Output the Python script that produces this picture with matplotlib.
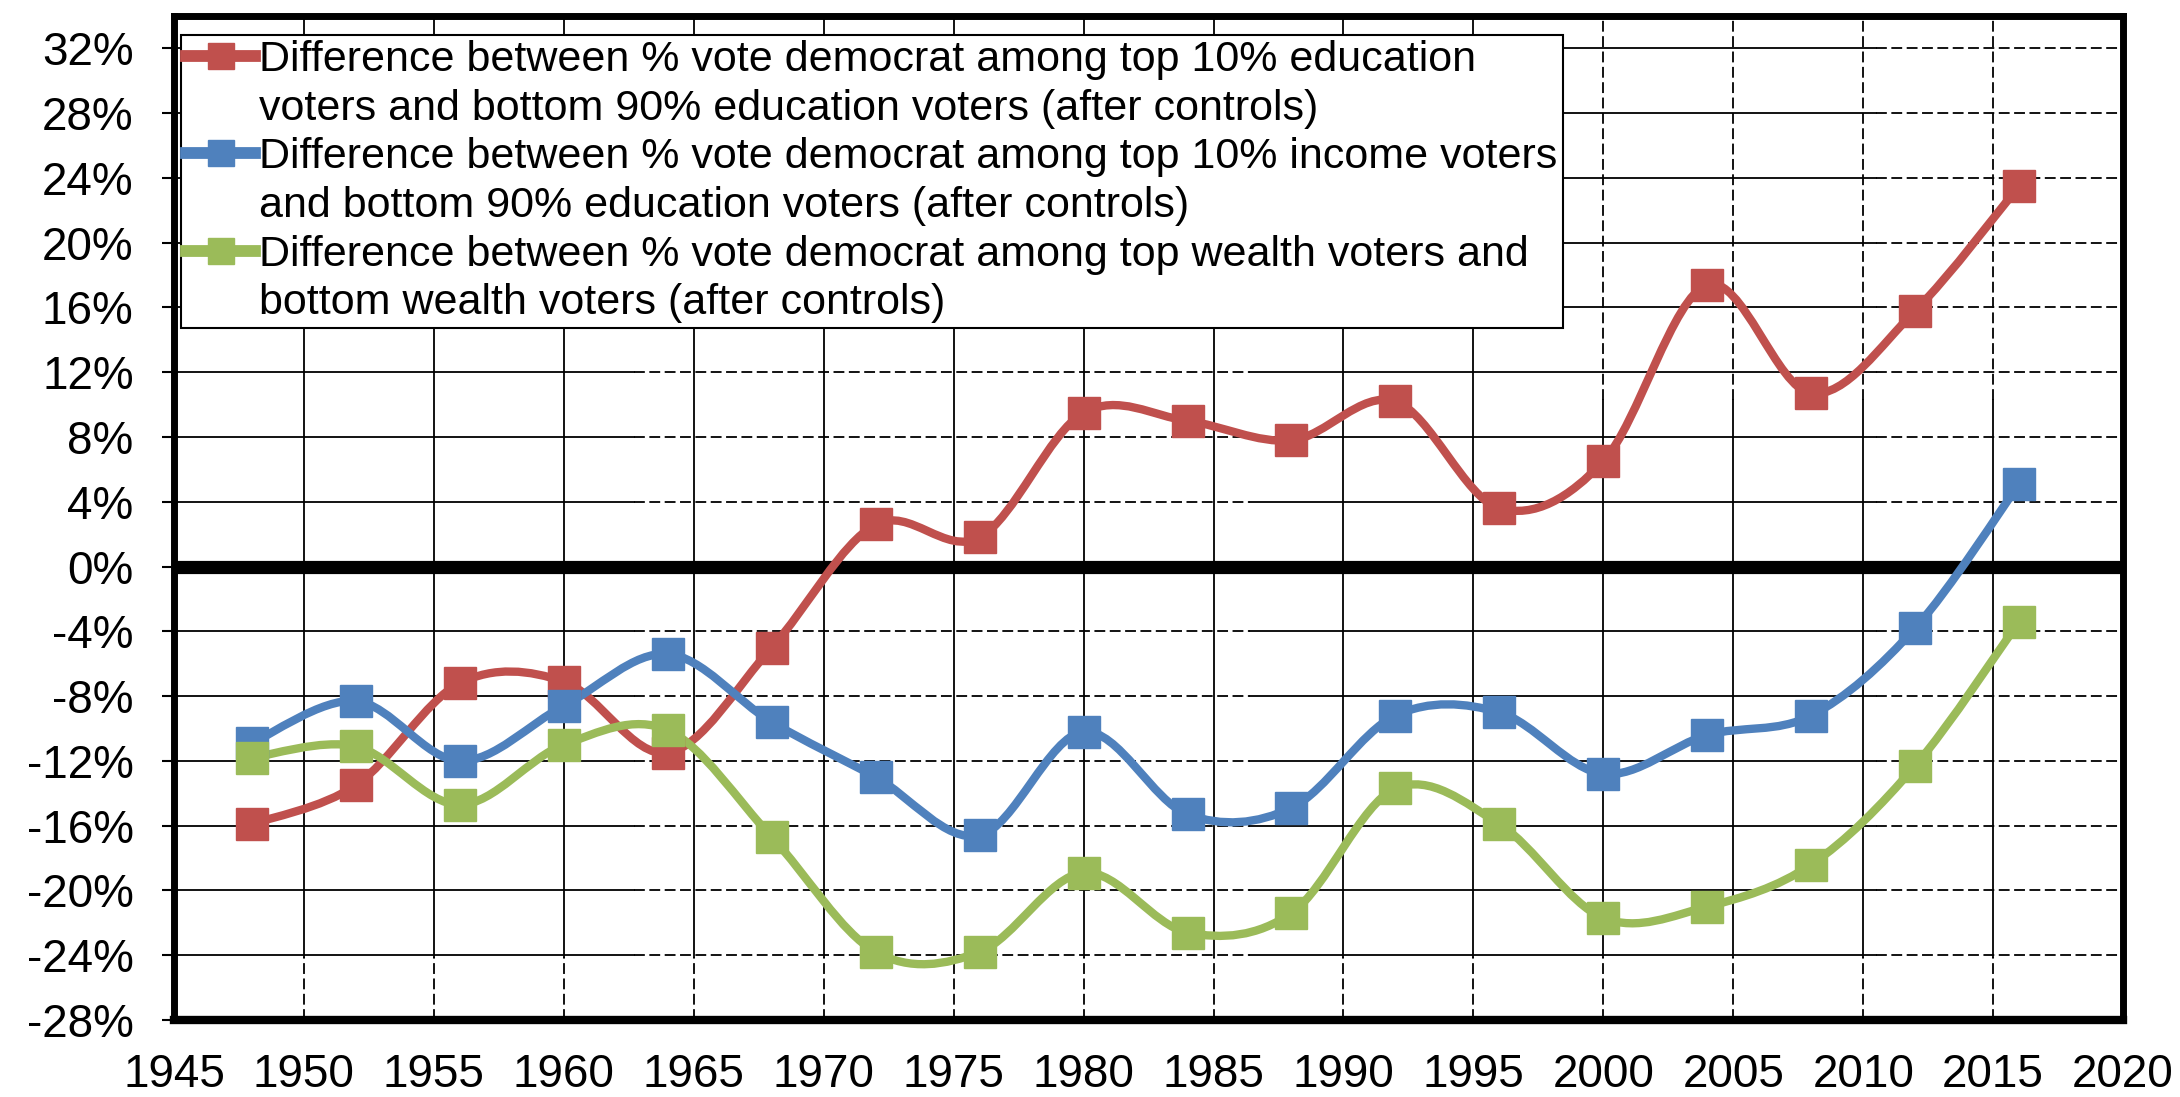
import numpy as np
import matplotlib.pyplot as plt
from matplotlib.path import Path
from matplotlib.patches import PathPatch
from matplotlib.lines import Line2D

plt.rcParams['font.family'] = ['Liberation Sans', 'DejaVu Sans']

# election years and the three gaps (percentage points)
years = [1948, 1952, 1956, 1960, 1964, 1968, 1972, 1976, 1980,
         1984, 1988, 1992, 1996, 2000, 2004, 2008, 2012, 2016]
education = [-15.9, -13.5, -7.2, -7.1, -11.5, -5.0, 2.6, 1.8, 9.5,
             9.0, 7.8, 10.2, 3.6, 6.5, 17.4, 10.7, 15.8, 23.5]
income = [-10.9, -8.3, -12.0, -8.6, -5.4, -9.6, -13.0, -16.6, -10.2,
          -15.3, -14.9, -9.2, -9.0, -12.8, -10.4, -9.2, -3.8, 5.1]
wealth = [-11.8, -11.1, -14.7, -11.0, -10.1, -16.7, -23.8, -23.8, -18.9,
          -22.6, -21.4, -13.7, -15.9, -21.7, -21.0, -18.4, -12.3, -3.4]

labels = [
    ['Difference between % vote democrat among top 10% education',
     'voters and bottom 90% education voters (after controls)'],
    ['Difference between % vote democrat among top 10% income voters',
     'and bottom 90% education voters (after controls)'],
    ['Difference between % vote democrat among top wealth voters and',
     'bottom wealth voters (after controls)'],
]
colors = ['#C0504D', '#4F81BD', '#9BBB59']

x_ticks = list(range(1945, 2021, 5))
y_ticks = list(range(-28, 33, 4))


def smooth_path(x, y):
    # excel style smoothed line: bezier with catmull-rom control points
    x = np.asarray(x, float)
    y = np.asarray(y, float)
    n = len(x)
    verts = [(x[0], y[0])]
    codes = [Path.MOVETO]
    for i in range(n - 1):
        i0 = max(i - 1, 0)
        i3 = min(i + 2, n - 1)
        c1 = (x[i] + (x[i + 1] - x[i0]) / 6, y[i] + (y[i + 1] - y[i0]) / 6)
        c2 = (x[i + 1] - (x[i3] - x[i]) / 6, y[i + 1] - (y[i3] - y[i]) / 6)
        verts += [c1, c2, (x[i + 1], y[i + 1])]
        codes += [Path.CURVE4] * 3
    return Path(verts, codes)


fig = plt.figure(figsize=(21.8, 10.97), dpi=100)
ax = fig.add_axes([0.0798, 0.0702, 0.8941, 0.9152])
ax.set_xlim(1945, 2020)
ax.set_ylim(-28, 34)

# grid, drawn by hand (solid and dashed pieces like the original)
dash = (0, (6, 2.5))
for v in y_ticks:
    if v in (0, -28):
        continue
    for a, b, ls in [(1945, 1962.7, '-'), (1962.7, 1986.4, dash),
                     (1986.4, 2010.5, '-'), (2010.5, 2020, dash)]:
        ax.plot([a, b], [v, v], color='black', lw=1.3, ls=ls, zorder=1)
for t in x_ticks[1:-1]:
    ax.plot([t, t], [-28, -24.1], color='black', lw=1.3, ls=dash, zorder=1)
    if t >= 2000:
        ax.plot([t, t], [-24.1, 10.3], color='black', lw=1.3, zorder=1)
        ax.plot([t, t], [10.3, 34], color='black', lw=1.3, ls=dash, zorder=1)
    else:
        ax.plot([t, t], [-24.1, 34], color='black', lw=1.3, zorder=1)

ax.axhline(0, color='black', lw=9.5, zorder=2)

for series, c in zip([education, income, wealth], colors):
    ax.add_patch(PathPatch(smooth_path(years, series), facecolor='none',
                           edgecolor=c, lw=6, capstyle='round', zorder=3))
    ax.plot(years, series, ls='none', marker='s', ms=23, color=c, zorder=4)

handles = []
leg_labels = []
for lab, c in zip(labels, colors):
    handles.append(Line2D([], [], color=c, lw=8.5, marker='s', ms=19))
    handles.append(Line2D([], [], color='none'))
    leg_labels += lab
leg = ax.legend(handles, leg_labels, loc='upper left',
                bbox_to_anchor=(0.0036, 0.981), fontsize=31,
                frameon=True, fancybox=False, edgecolor='black',
                framealpha=1, borderpad=0.12, labelspacing=0.2,
                handlelength=1.6, handletextpad=0.1, borderaxespad=0)
leg.get_frame().set_linewidth(1.5)
leg.set_zorder(10)

ax.set_xticks(x_ticks)
ax.set_yticks(y_ticks)
ax.set_yticklabels([f'{v}%' for v in y_ticks])
ax.tick_params(axis='x', length=0, pad=24, labelsize=33)
ax.tick_params(axis='y', length=9, width=1.5, pad=20, labelsize=33,
               direction='out')
for side in ['left', 'right', 'top', 'bottom']:
    ax.spines[side].set_linewidth(5)
    ax.spines[side].set_zorder(5)
ax.spines['bottom'].set_linewidth(6)

fig.savefig('out.png', dpi=100)
